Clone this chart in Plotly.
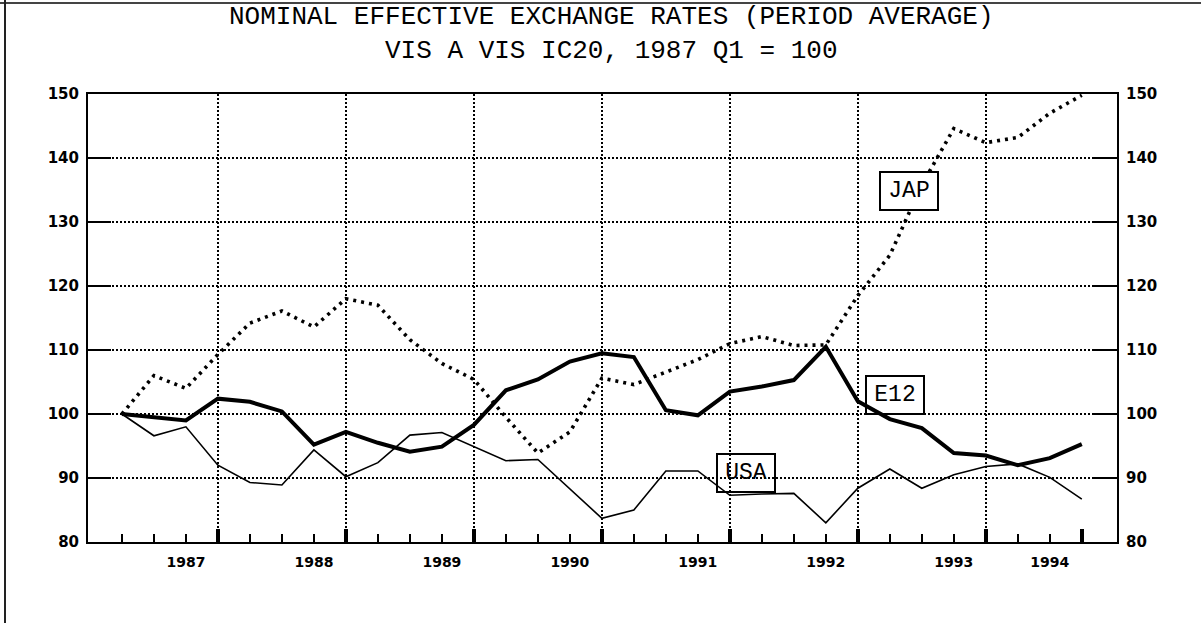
import plotly.graph_objects as go

# ---- data (quarters: index 0 = 1987 Q1 ... 30 = 1994 Q3) ----
quarters = list(range(31))
e12 = [100.0, 99.5, 99.0, 102.4, 101.9, 100.4, 95.2, 97.2, 95.5, 94.1, 94.9,
       98.3, 103.7, 105.4, 108.2, 109.5, 108.9, 100.6, 99.8, 103.5, 104.3,
       105.3, 110.5, 102.0, 99.2, 97.8, 93.9, 93.5, 92.0, 93.1, 95.3]
usa = [100.0, 96.6, 98.0, 92.0, 89.3, 88.9, 94.4, 90.2, 92.4, 96.7, 97.1,
       94.9, 92.7, 92.9, 88.3, 83.7, 85.0, 91.1, 91.1, 87.3, 87.5,
       87.6, 83.0, 88.4, 91.4, 88.4, 90.5, 91.8, 92.2, 90.1, 86.7]
jap = [100.0, 106.0, 104.0, 109.3, 114.2, 116.1, 113.6, 118.0, 117.0, 111.6, 107.9,
       105.4, 99.5, 93.9, 97.2, 105.6, 104.6, 106.5, 108.5, 111.0, 112.1,
       110.7, 110.8, 118.5, 124.8, 135.8, 144.6, 142.4, 143.2, 147.0, 149.8]

year_labels = ["1987", "1988", "1989", "1990", "1991", "1992", "1993", "1994"]
year_label_pos = [2, 6, 10, 14, 18, 22, 26, 29]
major_ticks = [3, 7, 11, 15, 19, 23, 27, 30]
grid_x = [3, 7, 11, 15, 19, 23, 27]
y_ticks = [80, 90, 100, 110, 120, 130, 140, 150]

title_lines = ["NOMINAL EFFECTIVE EXCHANGE RATES (PERIOD AVERAGE)",
               "VIS A VIS IC20, 1987 Q1 = 100"]
# (text, x, y, opaque background)
series_labels = [("JAP", 24.6, 134.8, True), ("E12", 24.15, 102.9, False),
                 ("USA", 19.5, 90.8, False)]

XR = [-1.06, 31.1]
YR = [80, 150]

fig = go.Figure()
fig.add_trace(go.Scatter(x=quarters, y=jap, mode="lines", name="JAP",
                         line=dict(color="black", width=3.6, dash="3px,5px")))
fig.add_trace(go.Scatter(x=quarters, y=usa, mode="lines", name="USA",
                         line=dict(color="black", width=1.6)))
fig.add_trace(go.Scatter(x=quarters, y=e12, mode="lines", name="E12",
                         line=dict(color="black", width=4)))
# dummy traces to activate overlay axes
for xa, ya in [("x2", "y"), ("x3", "y"), ("x", "y2")]:
    fig.add_trace(go.Scatter(x=[None], y=[None], xaxis=xa, yaxis=ya,
                             showlegend=False, hoverinfo="skip"))

tickfont_y = dict(family="DejaVu Sans", size=15, color="black", weight="bold")
tickfont_x = dict(family="DejaVu Sans", size=14, color="black", weight="bold")

fig.update_layout(
    width=1201, height=623,
    margin=dict(l=88, r=84, t=94, b=81),
    paper_bgcolor="white", plot_bgcolor="white",
    showlegend=False,
    xaxis=dict(range=XR, tickmode="array", tickvals=year_label_pos, ticktext=year_labels,
               ticks="", showgrid=False, zeroline=False, tickfont=tickfont_x,
               showline=True, linecolor="black", linewidth=2, mirror=True,
               ticklabelstandoff=6,
               minor=dict(tickmode="array", tickvals=quarters, ticks="inside",
                          ticklen=8, tickwidth=1.5, tickcolor="black", showgrid=False)),
    xaxis2=dict(range=XR, overlaying="x", anchor="y", tickmode="array",
                tickvals=major_ticks, ticks="inside", ticklen=13, tickwidth=3.5,
                tickcolor="black", showticklabels=False, showgrid=False, zeroline=False),
    xaxis3=dict(range=XR, overlaying="x", anchor="y", tickmode="array",
                tickvals=grid_x, ticks="", showticklabels=False, showgrid=True,
                gridcolor="black", gridwidth=1.5, griddash="2px,2px", zeroline=False),
    yaxis=dict(range=YR, tickmode="array", tickvals=y_ticks, ticks="inside",
               ticklen=23, tickwidth=2, tickcolor="black", tickfont=tickfont_y,
               showgrid=True, gridcolor="black", gridwidth=1.5, griddash="2px,2px",
               zeroline=False, showline=True, linecolor="black", linewidth=2, mirror=True,
               ticklabelstandoff=4),
    yaxis2=dict(range=YR, overlaying="y", side="right", anchor="x", tickmode="array",
                tickvals=y_ticks, ticks="inside", ticklen=23, tickwidth=2,
                tickcolor="black", tickfont=tickfont_y, showgrid=False, zeroline=False,
                ticklabelstandoff=8),
)

title_font = dict(family="Liberation Mono, DejaVu Sans Mono, monospace", size=26, color="black")
fig.add_annotation(text="<br>".join(title_lines),
                   xref="paper", yref="paper", x=(611 - 88) / 1029, y=1 + (94 - 34) / 448,
                   xanchor="center", yanchor="middle", showarrow=False, font=title_font)

for txt, lx, ly, opaque in series_labels:
    fig.add_annotation(text=txt, x=lx, y=ly, xref="x", yref="y", showarrow=False,
                       font=dict(family="Liberation Mono, DejaVu Sans Mono, monospace",
                                 size=23, color="black"),
                       bgcolor="white" if opaque else "rgba(0,0,0,0)",
                       bordercolor="black", borderwidth=2, borderpad=4,
                       width=48, height=28, align="center", valign="middle")

# outer frame lines (top and left edges of the scanned page)
fig.add_shape(type="line", xref="paper", yref="paper", x0=-88 / 1029, x1=1113 / 1029,
              y0=1 + (94 - 3) / 448, y1=1 + (94 - 3) / 448,
              line=dict(color="#444444", width=2))
fig.add_shape(type="line", xref="paper", yref="paper", x0=-(88 - 5) / 1029, x1=-(88 - 5) / 1029,
              y0=1 + 94 / 448, y1=-81 / 448, line=dict(color="#222222", width=2))

fig.write_html("out.html", config={"displayModeBar": False})

# remove the browser's default page margin so the figure sits at the window origin
with open("out.html", "r", encoding="utf-8") as f:
    html = f.read()
html = html.replace("<head>", "<head><style>html,body{margin:0;padding:0;overflow:hidden;}</style>", 1)
with open("out.html", "w", encoding="utf-8") as f:
    f.write(html)
